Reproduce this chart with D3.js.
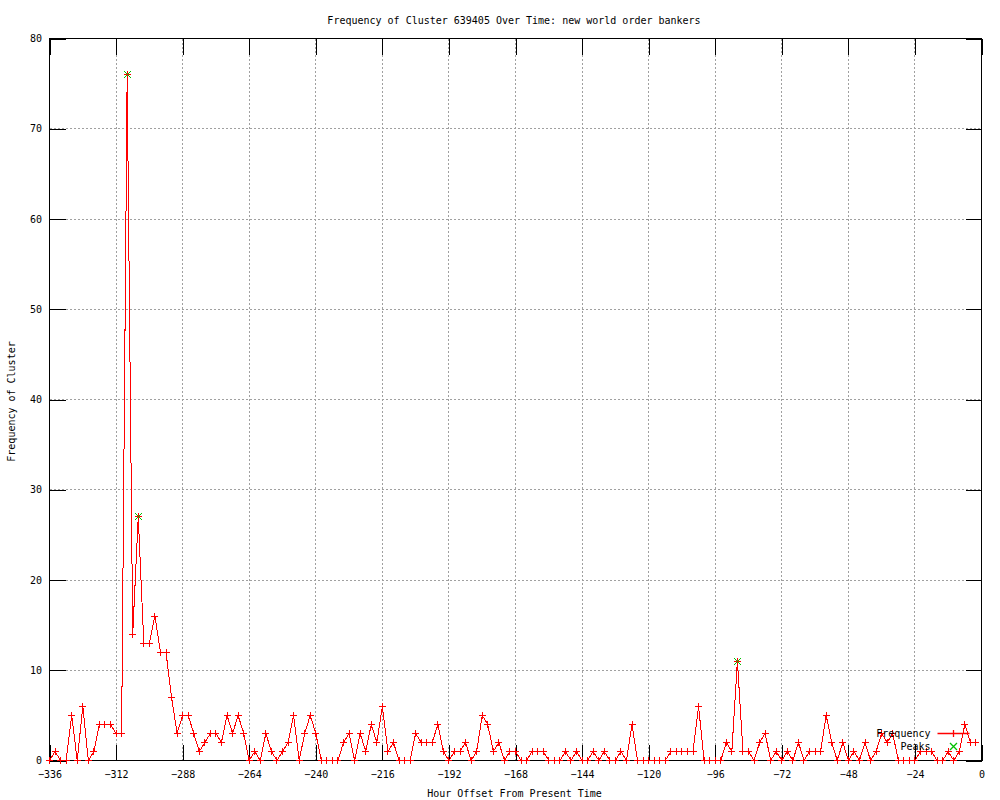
<!DOCTYPE html>
<meta charset="utf-8">
<style>
body { margin: 0; background: #fff; }
svg { display: block; background: #fff; }
text { font-family: "DejaVu Sans Mono", monospace; font-size: 10px; fill: #000; }
.grid line { stroke: #a0a0a0; stroke-dasharray: 2,2; shape-rendering: crispEdges; }
.axis line { stroke: #000; shape-rendering: crispEdges; }
.axis path { display: none; }
.frame { fill: none; stroke: #000; shape-rendering: crispEdges; }
.line { fill: none; stroke: #ff0000; stroke-width: 1px; shape-rendering: crispEdges; }
.plus { fill: none; stroke: #ff0000; shape-rendering: crispEdges; }
.cross { fill: none; stroke: #00c000; shape-rendering: crispEdges; }
.keymark { fill: none; stroke-width: 1.3px; }
</style>
<body>
<script src="https://d3js.org/d3.v7.min.js"></script>
<script>

// texts
var title = "Frequency of Cluster 639405 Over Time: new world order bankers";
var xTitle = "Hour Offset From Present Time";
var yTitle = "Frequency of Cluster";

// counts per 2-hour bin, first bin starts at hour -336
var firstHour = -336, binHours = 2;
var frequency = [
  0, 1, 0, 0, 5, 0, 6, 0, 1, 4,
  4, 4, 3, 3, 76, 14, 27, 13, 13, 16,
  12, 12, 7, 3, 5, 5, 3, 1, 2, 3,
  3, 2, 5, 3, 5, 3, 0, 1, 0, 3,
  1, 0, 1, 2, 5, 0, 3, 5, 3, 0,
  0, 0, 0, 2, 3, 0, 3, 1, 4, 2,
  6, 1, 2, 0, 0, 0, 3, 2, 2, 2,
  4, 1, 0, 1, 1, 2, 0, 1, 5, 4,
  1, 2, 0, 1, 1, 0, 0, 1, 1, 1,
  0, 0, 0, 1, 0, 1, 0, 0, 1, 0,
  1, 0, 0, 1, 0, 4, 0, 0, 0, 0,
  0, 0, 1, 1, 1, 1, 1, 6, 0, 0,
  0, 0, 2, 1, 11, 1, 1, 0, 2, 3,
  0, 1, 0, 1, 0, 2, 0, 1, 1, 1,
  5, 2, 0, 2, 0, 1, 0, 2, 0, 1,
  3, 2, 3, 0, 0, 0, 0, 1, 1, 1,
  0, 0, 1, 0, 1, 4, 2, 2
];
var hours = frequency.map(function(d, i) { return firstHour + i * binHours; });

// detected peaks
var peakHours = [-308, -304, -88];
var peakValues = [76, 27, 11];

// ticks
var xTicks = [-336, -312, -288, -264, -240, -216, -192, -168, -144, -120, -96, -72, -48, -24, 0];
var yTicks = [0, 10, 20, 30, 40, 50, 60, 70, 80];

// dimensions
var margin = {top: 38.5, right: 18.5, bottom: 39.5, left: 49.5},
    width = 1000 - margin.left - margin.right,
    height = 800 - margin.top - margin.bottom;

var x = d3.scaleLinear().domain([-336, 0]).range([0, width]);
var y = d3.scaleLinear().domain([0, 80]).range([height, 0]);

var root = d3.select("body").append("svg")
    .attr("width", 1000)
    .attr("height", 800);

var svg = root.append("g")
    .attr("transform", "translate(" + margin.left + "," + margin.top + ")");

// grid
var grid = svg.append("g").attr("class", "grid");
grid.selectAll(".gx").data(xTicks).enter().append("line")
    .attr("x1", function(d) { return x(d); })
    .attr("x2", function(d) { return x(d); })
    .attr("y1", 0).attr("y2", height);
grid.selectAll(".gy").data(yTicks).enter().append("line")
    .attr("x1", 0).attr("x2", width)
    .attr("y1", function(d) { return y(d); })
    .attr("y2", function(d) { return y(d); });

// axes (ticks drawn inward, mirrored on top and right)
svg.append("g").attr("class", "axis")
    .attr("transform", "translate(0," + height + ")")
    .call(d3.axisBottom(x).tickValues(xTicks).tickSizeInner(-16).tickSizeOuter(0).tickPadding(10));
svg.append("g").attr("class", "axis")
    .call(d3.axisTop(x).tickValues(xTicks).tickSizeInner(-16).tickSizeOuter(0).tickFormat(""));
svg.append("g").attr("class", "axis")
    .call(d3.axisLeft(y).tickValues(yTicks).tickSizeInner(-16).tickSizeOuter(0).tickPadding(7.5));
svg.append("g").attr("class", "axis")
    .attr("transform", "translate(" + width + ",0)")
    .call(d3.axisRight(y).tickValues(yTicks).tickSizeInner(-16).tickSizeOuter(0).tickFormat(""));

svg.append("rect").attr("class", "frame")
    .attr("width", width).attr("height", height);

// frequency line + points
var points = hours.map(function(h, i) { return {h: h, v: frequency[i]}; });
var valueline = d3.line()
    .x(function(d) { return x(d.h); })
    .y(function(d) { return y(d.v); });

svg.append("path").datum(points).attr("class", "line").attr("d", valueline);

var plusPath = "M-3.5,0H3.5M0,-3.5V3.5";
var crossPath = "M-3.5,-3.5L3.5,3.5M-3.5,3.5L3.5,-3.5";

svg.selectAll(".p").data(points).enter().append("path")
    .attr("class", "plus")
    .attr("d", plusPath)
    .attr("transform", function(d) {
      return "translate(" + Math.round(x(d.h)) + "," + Math.round(y(d.v)) + ")";
    });

// peaks
svg.selectAll(".k").data(peakHours).enter().append("path")
    .attr("class", "cross")
    .attr("d", crossPath)
    .attr("transform", function(d, i) {
      return "translate(" + Math.round(x(d)) + "," + Math.round(y(peakValues[i])) + ")";
    });

// key (bottom right)
var keyX = width - 51, keyY = height - 27;
svg.append("text").attr("x", keyX).attr("y", keyY).attr("dy", "0.36em")
    .attr("text-anchor", "end").text("Frequency");
svg.append("path").attr("class", "keymark")
    .attr("stroke", "#ff0000")
    .attr("d", "M" + (keyX + 7) + "," + keyY + "H" + (keyX + 39) +
               "M" + (keyX + 23) + "," + (keyY - 3.5) + "V" + (keyY + 3.5));
svg.append("text").attr("x", keyX).attr("y", keyY + 13).attr("dy", "0.36em")
    .attr("text-anchor", "end").text("Peaks");
svg.append("path").attr("class", "keymark")
    .attr("stroke", "#00c000")
    .attr("d", crossPath)
    .attr("transform", "translate(" + (keyX + 23) + "," + (keyY + 13) + ")");

// titles
root.append("text")
    .attr("x", margin.left + width / 2 - 1.5)
    .attr("y", 23.5)
    .attr("text-anchor", "middle")
    .text(title);

root.append("text")
    .attr("x", margin.left + width / 2 - 1)
    .attr("y", 796.5)
    .attr("text-anchor", "middle")
    .text(xTitle);

root.append("text")
    .attr("transform", "translate(15," + (margin.top + height / 2 + 2) + ") rotate(-90)")
    .attr("text-anchor", "middle")
    .text(yTitle);

</script>
</body>
